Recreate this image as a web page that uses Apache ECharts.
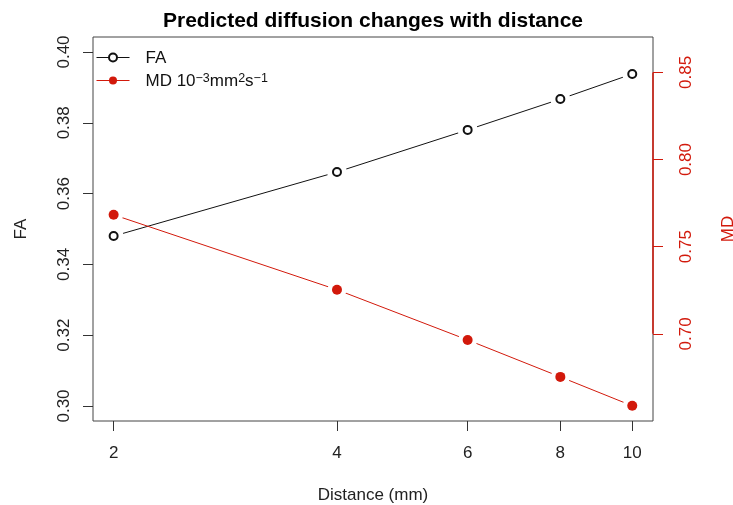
<!DOCTYPE html>
<html>
<head>
<meta charset="utf-8">
<script src="https://cdn.jsdelivr.net/npm/echarts@6/dist/echarts.min.js"></script>
<style>
  html, body { margin: 0; padding: 0; background: #fff; }
  #chart { width: 733px; height: 505px; }
</style>
</head>
<body>
<div id="chart"></div>
<script>
// values
const distance = [2, 4, 6, 8, 10];
const faValues = [0.348, 0.3661, 0.378, 0.3867, 0.3938];
const mdValues = [0.7683, 0.7253, 0.6965, 0.6753, 0.6587];

const xTicks = [2, 4, 6, 8, 10];
const faTicks = [0.30, 0.32, 0.34, 0.36, 0.38, 0.40];
const mdTicks = [0.70, 0.75, 0.80, 0.85];

// axis limits (R pads 4%)
const xRange = [1.876, 10.665];
const faRange = [0.29576, 0.40424];
const mdRange = [0.650, 0.8703];

const red = '#d2190b';
const font = 'Liberation Sans, Arial, Helvetica, sans-serif';

function pairs(ys) {
    return distance.map((d, i) => [d, ys[i]]);
}

const faData = pairs(faValues);
const mdData = pairs(mdValues);

echarts.init(document.getElementById('chart')).setOption({
    animation: false,
    textStyle: { fontFamily: font },
    title: {
        text: 'Predicted diffusion changes with distance',
        left: 368,
        textAlign: 'center',
        top: 6,
        textStyle: { fontSize: 21, fontWeight: 'bold', color: '#000', fontFamily: font }
    },
    legend: {
        orient: 'vertical',
        left: 96,
        top: 48,
        padding: 0,
        itemWidth: 33,
        itemHeight: 10,
        itemGap: 4,
        data: ['FA', 'MD'],
        lineStyle: { width: 1 },
        itemStyle: { borderWidth: 1 },
        formatter: name => name === 'MD' ? 'MD 10{sup|\u22123}mm{sup|2}s{sup|\u22121}' : name,
        textStyle: {
            fontSize: 17,
            lineHeight: 18,
            color: '#111',
            padding: [1, 0, 0, 11],
            rich: {
                sup: { fontSize: 12.5, lineHeight: 18, verticalAlign: 'top', padding: [0, 0, 5, 0] }
            }
        }
    },
    grid: {
        left: 93,
        right: 80,
        top: 37,
        bottom: 84,
        outerBoundsMode: 'none',
        show: true,
        borderColor: '#444',
        borderWidth: 1
    },
    xAxis: {
        type: 'log',
        logBase: 10,
        min: xRange[0],
        max: xRange[1],
        name: 'Distance (mm)',
        nameLocation: 'middle',
        nameGap: 66,
        nameTextStyle: { fontSize: 17, color: '#222' },
        splitLine: { show: false },
        minorTick: { show: false },
        axisLine: { show: false },
        axisTick: { customValues: xTicks, length: 10, lineStyle: { color: '#333' } },
        axisLabel: {
            customValues: xTicks,
            fontSize: 17,
            color: '#222',
            margin: 24,
            formatter: v => String(Math.round(v))
        }
    },
    yAxis: [{
        type: 'value',
        position: 'left',
        min: faRange[0],
        max: faRange[1],
        name: 'FA',
        nameLocation: 'middle',
        nameRotate: 90,
        nameGap: 63,
        nameTextStyle: { fontSize: 17, color: '#222' },
        splitLine: { show: false },
        axisLine: { show: false },
        axisTick: { show: true, customValues: faTicks, length: 10, lineStyle: { color: '#333' } },
        axisLabel: {
            customValues: faTicks,
            rotate: 90,
            fontSize: 17,
            color: '#222',
            margin: 20,
            formatter: v => v.toFixed(2)
        }
    }, {
        type: 'value',
        position: 'right',
        min: mdRange[0],
        max: mdRange[1],
        name: 'MD',
        nameLocation: 'middle',
        nameRotate: 90,
        nameGap: 67,
        nameTextStyle: { fontSize: 17, color: red },
        splitLine: { show: false },
        axisLine: { show: false },
        axisTick: { show: true, customValues: mdTicks, length: 10, lineStyle: { color: red } },
        axisLabel: {
            customValues: mdTicks,
            rotate: 90,
            fontSize: 17,
            color: red,
            margin: 25,
            formatter: v => v.toFixed(2)
        }
    }],
    series: [{
        name: 'FA',
        type: 'line',
        data: faData,
        symbol: 'emptyCircle',
        showSymbol: false,
        lineStyle: { color: '#111', width: 1 },
        itemStyle: { color: '#111', borderWidth: 1 },
        z: 2
    }, {
        name: 'MD',
        type: 'line',
        yAxisIndex: 1,
        data: mdData,
        symbol: 'circle',
        showSymbol: false,
        lineStyle: { color: red, width: 1 },
        itemStyle: { color: red },
        markLine: {
            silent: true,
            symbol: 'none',
            label: { show: false },
            lineStyle: { color: red, type: 'solid', width: 1.5 },
            data: [[{ coord: [xRange[1], mdTicks[0]] }, { coord: [xRange[1], mdTicks[mdTicks.length - 1]] }]]
        },
        z: 2
    }, {
        // white gaps round the points (R type = "b")
        type: 'scatter',
        data: faData,
        symbol: 'circle',
        symbolSize: 20,
        itemStyle: { color: '#fff', opacity: 1 },
        silent: true,
        z: 3
    }, {
        type: 'scatter',
        yAxisIndex: 1,
        data: mdData,
        symbol: 'circle',
        symbolSize: 19,
        itemStyle: { color: '#fff', opacity: 1 },
        silent: true,
        z: 3
    }, {
        type: 'scatter',
        data: faData,
        symbol: 'emptyCircle',
        symbolSize: 8,
        itemStyle: { color: '#111', borderWidth: 1, opacity: 1 },
        z: 4
    }, {
        type: 'scatter',
        yAxisIndex: 1,
        data: mdData,
        symbol: 'circle',
        symbolSize: 10,
        itemStyle: { color: red, opacity: 1 },
        z: 4
    }]
});
</script>
</body>
</html>
